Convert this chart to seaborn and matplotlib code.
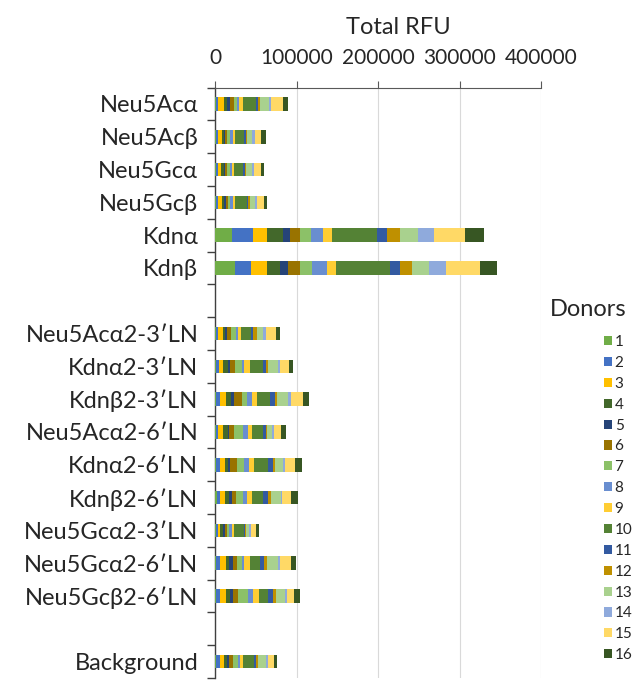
import numpy as np
import pandas as pd
import seaborn as sns
import matplotlib.pyplot as plt
from matplotlib.patches import Patch
from matplotlib.ticker import FixedLocator

sns.set_style('white')
plt.rcParams['font.family'] = ['Lato', 'DejaVu Sans']

# row labels, top to bottom (blank rows are spacers)
rows = ['Neu5Acα', 'Neu5Acβ', 'Neu5Gcα', 'Neu5Gcβ', 'Kdnα', 'Kdnβ', ' ',
        'Neu5Acα2-3′LN', 'Kdnα2-3′LN', 'Kdnβ2-3′LN', 'Neu5Acα2-6′LN',
        'Kdnα2-6′LN', 'Kdnβ2-6′LN', 'Neu5Gcα2-3′LN', 'Neu5Gcα2-6′LN',
        'Neu5Gcβ2-6′LN', '  ', 'Background']

donors = [str(i) for i in range(1, 17)]

# RFU per donor (1..16) for each row
neu5ac_a = [1200, 2000, 8200, 3300, 3300, 5700, 3300, 2900, 4100, 16300, 2000, 3300, 11000, 2000, 14300, 6100]
neu5ac_b = [1000, 2500, 4500, 2500, 2000, 2000, 4000, 3000, 2500, 12000, 2000, 1500, 6500, 2500, 8500, 5500]
neu5gc_a = [1000, 2500, 4000, 3000, 2000, 2500, 3500, 2500, 2500, 11000, 2500, 1500, 7000, 2500, 8000, 4000]
neu5gc_b = [1500, 2000, 4500, 3000, 2000, 2500, 3500, 3000, 2500, 14500, 2000, 1500, 6500, 2500, 9000, 3000]
kdn_a = [21400, 24700, 17700, 19300, 9000, 12300, 12800, 15200, 11100, 55600, 12300, 15600, 21800, 19300, 38300, 23500]
kdn_b = [24700, 19300, 19800, 16000, 9500, 14400, 14800, 18500, 11900, 65400, 12800, 14400, 21400, 21000, 41200, 21400]
blank = [0] * 16
neu5ac_a23 = [1600, 2400, 5300, 2900, 2400, 4900, 6100, 2000, 4100, 12200, 3300, 4900, 7300, 2900, 12200, 5300]
kdn_a23 = [1200, 4100, 4100, 6100, 3300, 5700, 8200, 3300, 7300, 15100, 4100, 2900, 11400, 2900, 11400, 4900]
kdn_b23 = [1200, 5300, 6900, 6100, 3300, 9800, 6500, 5700, 6500, 16300, 6100, 2900, 13100, 4100, 14700, 7300]
neu5ac_a26 = [1200, 2900, 5300, 6100, 2000, 5300, 11000, 6100, 4900, 13500, 4100, 2000, 6100, 2000, 8200, 6500]
kdn_a26 = [1200, 5300, 5700, 3300, 3300, 8200, 9000, 6100, 5300, 18000, 5300, 2900, 9400, 2900, 12200, 8600]
kdn_b26 = [2400, 4100, 5700, 5300, 2900, 5300, 8200, 5300, 5700, 13500, 6900, 3300, 12200, 2000, 11000, 8200]
neu5gc_a23 = [800, 2400, 3300, 2900, 2900, 2400, 2900, 2900, 3300, 11400, 2000, 1200, 3700, 2000, 6100, 3300]
neu5gc_a26 = [1200, 5300, 6900, 4100, 4100, 5300, 5700, 3300, 7300, 12200, 4900, 3300, 13100, 3300, 13100, 6500]
neu5gc_b26 = [1200, 5300, 6900, 5300, 2900, 6900, 12200, 6500, 6900, 11000, 6500, 2900, 11000, 2400, 9000, 6900]
background = [1200, 5300, 4900, 3300, 2900, 4100, 6100, 3300, 2900, 14300, 2000, 2000, 10200, 2000, 7300, 4100]

colors = ['#70AD47', '#4472C4', '#FFC000', '#43682B', '#264478', '#997300',
          '#8CC168', '#698ED0', '#FFCD33', '#548235', '#335AA1', '#BF9000',
          '#A9D18E', '#8FAADC', '#FFD966', '#375623']

df = pd.DataFrame([neu5ac_a, neu5ac_b, neu5gc_a, neu5gc_b, kdn_a, kdn_b, blank,
                   neu5ac_a23, kdn_a23, kdn_b23, neu5ac_a26, kdn_a26, kdn_b26,
                   neu5gc_a23, neu5gc_a26, neu5gc_b26, blank, background],
                  index=rows, columns=donors)
cum = df.cumsum(axis=1)

fig = plt.figure(figsize=(6.38, 6.81), dpi=100)
ax = fig.add_axes([0.337, 0.0044, 0.511, 0.867])

# stacked look: draw the longest running total first, shorter ones on top
for i in range(15, -1, -1):
    sns.barplot(x=cum[donors[i]].values, y=rows, order=rows, orient='h',
                color=colors[i], saturation=1, width=0.41, ax=ax, zorder=3,
                edgecolor='none', linewidth=0)

ax.set_xlim(0, 400000)
ax.set_ylim(len(rows) - 0.5, -0.5)
ax.xaxis.tick_top()
ax.xaxis.set_label_position('top')
ax.set_xticks([0, 100000, 200000, 300000, 400000])
ax.set_xticklabels(['0', '100000', '200000', '300000', '400000'], fontsize=15)
ax.set_xlabel('Total RFU', fontsize=17, labelpad=10, x=0.561)
ax.set_ylabel('')
ax.tick_params(axis='x', direction='out', length=5, width=0.8, color='#595959', pad=9, top=True)
ax.tick_params(axis='y', which='major', length=0, labelsize=17, pad=12)
ax.yaxis.set_minor_locator(FixedLocator(np.arange(-0.5, len(rows), 1)))
ax.tick_params(axis='y', which='minor', left=True, direction='out', length=6, width=1, color='#404040')
ax.grid(axis='x', color='#D9D9D9', linewidth=0.8, zorder=0)
ax.set_axisbelow(True)
for side in ['right', 'bottom']:
    ax.spines[side].set_visible(False)
ax.spines['left'].set_color('#404040')
ax.spines['left'].set_linewidth(1)
ax.spines['top'].set_color('#595959')
ax.spines['top'].set_linewidth(0.8)

fig.text(588 / 638, 1 - 309 / 681, 'Donors', fontsize=17, ha='center', va='center')
handles = [Patch(facecolor=c, edgecolor='none') for c in colors]
fig.legend(handles, donors, loc='upper left', bbox_to_anchor=(0.937, 0.517),
           frameon=False, fontsize=11, handlelength=0.55, handleheight=0.55,
           handletextpad=0.15, labelspacing=0.45, borderaxespad=0)

fig.savefig('out.png', dpi=100)
